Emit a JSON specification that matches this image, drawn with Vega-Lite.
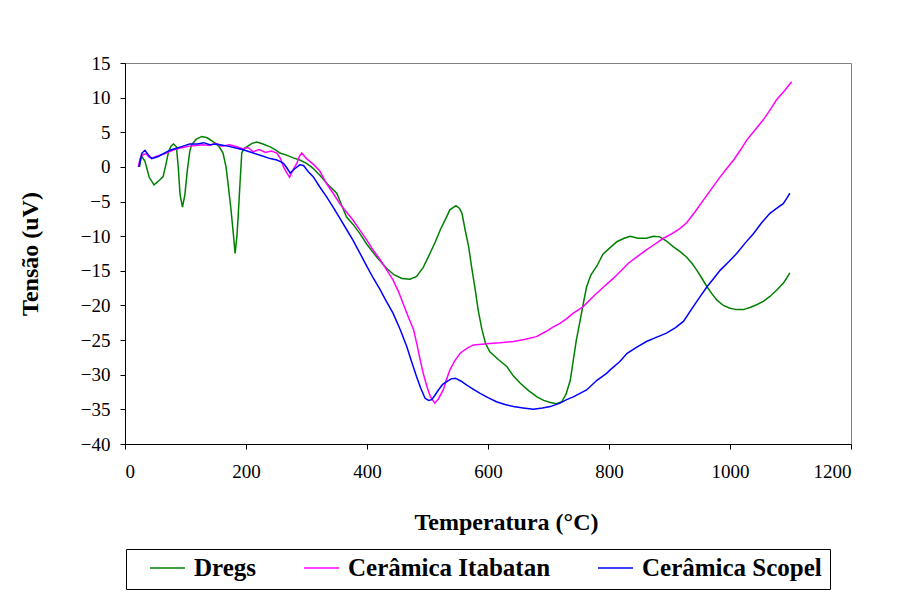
{
  "$schema": "https://vega.github.io/schema/vega-lite/v6.json",
  "width": 726,
  "height": 381,
  "autosize": {"type": "none"},
  "padding": {"left": 125, "top": 63, "right": 50, "bottom": 152},
  "background": "white",
  "config": {
    "view": {"stroke": "#808080", "strokeWidth": 1},
    "font": "Liberation Serif",
    "axis": {
      "grid": false,
      "domainColor": "black",
      "tickColor": "black",
      "labelColor": "black",
      "labelFont": "Liberation Serif",
      "labelFontSize": 19,
      "titleFont": "Liberation Serif",
      "titleFontSize": 24,
      "titleFontWeight": "bold",
      "titleColor": "black",
      "tickSize": 5
    },
    "legend": {
      "labelFont": "Liberation Serif",
      "labelFontSize": 25,
      "labelFontWeight": "bold",
      "labelColor": "black",
      "labelLimit": 500
    }
  },
  "datasets": {
    "dregs": [
      {"t":24,"v":0},{"t":27,"v":1.6},{"t":33,"v":0.8},{"t":40,"v":-1.5},{"t":48,"v":-2.6},{"t":56,"v":-2},{"t":63,"v":-1.4},{"t":68,"v":0.5},{"t":72,"v":2.2},{"t":76,"v":3.0},{"t":80,"v":3.3},{"t":85,"v":2.9},{"t":88,"v":0},{"t":91,"v":-4},{"t":95,"v":-5.8},{"t":99,"v":-4},{"t":103,"v":-0.5},{"t":107,"v":2.2},{"t":110,"v":3.2},{"t":118,"v":4.0},{"t":127,"v":4.4},{"t":136,"v":4.2},{"t":146,"v":3.6},{"t":155,"v":3.0},{"t":162,"v":2.0},{"t":167,"v":0},{"t":171,"v":-2.9},{"t":175,"v":-6},{"t":179,"v":-9.6},{"t":182,"v":-12.5},{"t":185,"v":-10},{"t":187,"v":-7.2},{"t":190,"v":-2.5},{"t":193,"v":2},{"t":197,"v":2.7},{"t":201,"v":2.9},{"t":210,"v":3.4},{"t":218,"v":3.6},{"t":228,"v":3.3},{"t":240,"v":2.9},{"t":250,"v":2.4},{"t":256,"v":2.0},{"t":267,"v":1.7},{"t":278,"v":1.3},{"t":289,"v":1.0},{"t":300,"v":0.5},{"t":311,"v":-0.2},{"t":322,"v":-1.2},{"t":335,"v":-2.5},{"t":350,"v":-3.8},{"t":358,"v":-5.5},{"t":366,"v":-7.2},{"t":377,"v":-8.3},{"t":388,"v":-9.6},{"t":400,"v":-11.2},{"t":416,"v":-13},{"t":432,"v":-14.6},{"t":445,"v":-15.6},{"t":458,"v":-16.1},{"t":471,"v":-16.2},{"t":482,"v":-15.8},{"t":493,"v":-14.5},{"t":504,"v":-12.5},{"t":513,"v":-10.8},{"t":521,"v":-9.1},{"t":530,"v":-7.5},{"t":537,"v":-6.2},{"t":547,"v":-5.6},{"t":553,"v":-6.0},{"t":557,"v":-6.7},{"t":562,"v":-9},{"t":568,"v":-11.5},{"t":573,"v":-14.5},{"t":579,"v":-17.8},{"t":584,"v":-20.8},{"t":590,"v":-23.5},{"t":596,"v":-25.5},{"t":603,"v":-26.7},{"t":617,"v":-27.8},{"t":631,"v":-28.8},{"t":642,"v":-30.2},{"t":653,"v":-31.2},{"t":667,"v":-32.3},{"t":681,"v":-33.2},{"t":692,"v":-33.7},{"t":703,"v":-34},{"t":713,"v":-34.2},{"t":722,"v":-33.9},{"t":729,"v":-32.8},{"t":736,"v":-30.8},{"t":741,"v":-27.9},{"t":746,"v":-25},{"t":752,"v":-22.3},{"t":758,"v":-19.5},{"t":763,"v":-17.3},{"t":770,"v":-15.6},{"t":780,"v":-14.3},{"t":790,"v":-12.6},{"t":800,"v":-11.8},{"t":813,"v":-10.8},{"t":825,"v":-10.3},{"t":835,"v":-10.0},{"t":848,"v":-10.3},{"t":862,"v":-10.3},{"t":873,"v":-10.0},{"t":884,"v":-10.1},{"t":895,"v":-10.7},{"t":906,"v":-11.5},{"t":917,"v":-12.2},{"t":928,"v":-13},{"t":937,"v":-13.9},{"t":945,"v":-14.9},{"t":953,"v":-16},{"t":962,"v":-17.3},{"t":970,"v":-18.3},{"t":978,"v":-19.2},{"t":989,"v":-20},{"t":1000,"v":-20.4},{"t":1011,"v":-20.6},{"t":1022,"v":-20.6},{"t":1033,"v":-20.3},{"t":1044,"v":-19.9},{"t":1055,"v":-19.4},{"t":1066,"v":-18.7},{"t":1077,"v":-17.8},{"t":1088,"v":-16.8},{"t":1094,"v":-16},{"t":1099,"v":-15.3}
    ],
    "itabatan": [
      {"t":22,"v":0},{"t":25,"v":1.2},{"t":30,"v":1.8},{"t":35,"v":1.9},{"t":40,"v":1.4},{"t":45,"v":1.3},{"t":55,"v":1.6},{"t":65,"v":1.9},{"t":74,"v":2.2},{"t":85,"v":2.6},{"t":95,"v":2.8},{"t":107,"v":3.0},{"t":118,"v":3.1},{"t":129,"v":3.2},{"t":140,"v":3.1},{"t":150,"v":3.4},{"t":160,"v":3.0},{"t":173,"v":3.2},{"t":185,"v":2.9},{"t":195,"v":2.6},{"t":203,"v":2.8},{"t":212,"v":2.2},{"t":222,"v":2.5},{"t":232,"v":2.1},{"t":242,"v":2.3},{"t":251,"v":2.0},{"t":257,"v":1.2},{"t":262,"v":0},{"t":267,"v":-0.8},{"t":272,"v":-1.5},{"t":278,"v":-0.4},{"t":284,"v":0.5},{"t":288,"v":1.5},{"t":292,"v":2.0},{"t":300,"v":1.2},{"t":311,"v":0.4},{"t":322,"v":-0.6},{"t":333,"v":-2.4},{"t":344,"v":-3.8},{"t":355,"v":-5.3},{"t":366,"v":-6.5},{"t":377,"v":-7.7},{"t":388,"v":-9.1},{"t":400,"v":-10.6},{"t":410,"v":-12},{"t":421,"v":-13.3},{"t":432,"v":-14.8},{"t":443,"v":-16.3},{"t":452,"v":-18},{"t":460,"v":-19.8},{"t":468,"v":-21.6},{"t":477,"v":-23.5},{"t":483,"v":-25.8},{"t":488,"v":-27.9},{"t":493,"v":-29.8},{"t":499,"v":-31.7},{"t":505,"v":-33.2},{"t":512,"v":-34.1},{"t":518,"v":-33.5},{"t":526,"v":-32.2},{"t":531,"v":-30.8},{"t":537,"v":-29.3},{"t":545,"v":-28},{"t":554,"v":-26.9},{"t":565,"v":-26.2},{"t":576,"v":-25.7},{"t":590,"v":-25.6},{"t":603,"v":-25.5},{"t":620,"v":-25.4},{"t":642,"v":-25.2},{"t":660,"v":-24.9},{"t":680,"v":-24.5},{"t":695,"v":-23.8},{"t":708,"v":-23.1},{"t":719,"v":-22.6},{"t":730,"v":-21.9},{"t":741,"v":-21.1},{"t":757,"v":-20.2},{"t":774,"v":-18.7},{"t":790,"v":-17.4},{"t":807,"v":-16.1},{"t":820,"v":-15.0},{"t":832,"v":-13.9},{"t":846,"v":-13},{"t":860,"v":-12.1},{"t":875,"v":-11.2},{"t":890,"v":-10.3},{"t":905,"v":-9.6},{"t":917,"v":-8.9},{"t":928,"v":-8.1},{"t":942,"v":-6.5},{"t":956,"v":-4.8},{"t":970,"v":-3.1},{"t":984,"v":-1.4},{"t":995,"v":-0.2},{"t":1006,"v":1.0},{"t":1017,"v":2.4},{"t":1028,"v":3.9},{"t":1041,"v":5.3},{"t":1055,"v":6.8},{"t":1066,"v":8.2},{"t":1077,"v":9.7},{"t":1090,"v":11.0},{"t":1102,"v":12.3}
    ],
    "scopel": [
      {"t":23,"v":0},{"t":25,"v":0.8},{"t":28,"v":2.0},{"t":33,"v":2.4},{"t":38,"v":1.8},{"t":44,"v":1.2},{"t":55,"v":1.5},{"t":65,"v":2.0},{"t":74,"v":2.4},{"t":85,"v":2.7},{"t":96,"v":3.0},{"t":107,"v":3.3},{"t":120,"v":3.3},{"t":130,"v":3.5},{"t":140,"v":3.2},{"t":150,"v":3.3},{"t":157,"v":3.2},{"t":170,"v":3.0},{"t":185,"v":2.7},{"t":198,"v":2.4},{"t":212,"v":2.0},{"t":226,"v":1.6},{"t":240,"v":1.2},{"t":251,"v":1.0},{"t":256,"v":0.8},{"t":262,"v":0.5},{"t":268,"v":-0.2},{"t":273,"v":-0.9},{"t":280,"v":-0.3},{"t":289,"v":0.3},{"t":295,"v":0.2},{"t":303,"v":-0.7},{"t":311,"v":-1.4},{"t":322,"v":-2.9},{"t":333,"v":-4.3},{"t":344,"v":-5.8},{"t":355,"v":-7.4},{"t":366,"v":-9},{"t":377,"v":-10.6},{"t":388,"v":-12.4},{"t":400,"v":-14.4},{"t":410,"v":-16},{"t":421,"v":-17.6},{"t":432,"v":-19.4},{"t":443,"v":-21.1},{"t":455,"v":-23.5},{"t":466,"v":-26},{"t":474,"v":-28.2},{"t":482,"v":-30.3},{"t":489,"v":-32},{"t":496,"v":-33.4},{"t":502,"v":-33.7},{"t":507,"v":-33.6},{"t":512,"v":-33},{"t":518,"v":-32.2},{"t":525,"v":-31.4},{"t":532,"v":-31},{"t":539,"v":-30.6},{"t":546,"v":-30.5},{"t":555,"v":-30.9},{"t":565,"v":-31.5},{"t":576,"v":-32.1},{"t":587,"v":-32.7},{"t":600,"v":-33.3},{"t":614,"v":-33.9},{"t":628,"v":-34.3},{"t":642,"v":-34.6},{"t":658,"v":-34.8},{"t":675,"v":-35},{"t":690,"v":-34.8},{"t":703,"v":-34.6},{"t":719,"v":-34.1},{"t":730,"v":-33.6},{"t":741,"v":-33.2},{"t":752,"v":-32.7},{"t":763,"v":-32.2},{"t":780,"v":-30.8},{"t":796,"v":-29.8},{"t":802,"v":-29.3},{"t":818,"v":-28.1},{"t":830,"v":-26.9},{"t":846,"v":-26},{"t":862,"v":-25.2},{"t":878,"v":-24.6},{"t":895,"v":-24},{"t":910,"v":-23.2},{"t":923,"v":-22.3},{"t":939,"v":-20.2},{"t":950,"v":-18.8},{"t":962,"v":-17.3},{"t":973,"v":-16.1},{"t":984,"v":-14.9},{"t":998,"v":-13.7},{"t":1011,"v":-12.5},{"t":1025,"v":-11},{"t":1039,"v":-9.6},{"t":1052,"v":-8.1},{"t":1066,"v":-6.7},{"t":1077,"v":-6},{"t":1088,"v":-5.3},{"t":1094,"v":-4.5},{"t":1099,"v":-3.8}
    ]
  },
  "encoding": {
    "x": {
      "field": "t", "type": "quantitative",
      "scale": {"domain": [0, 1200], "nice": false, "zero": false},
      "axis": {"values": [0, 200, 400, 600, 800, 1000, 1200], "format": "d", "title": "Temperatura (°C)", "labelPadding": 13, "titlePadding": 29, "titleX": 381}
    },
    "y": {
      "field": "v", "type": "quantitative",
      "scale": {"domain": [-40, 15], "nice": false, "zero": false},
      "axis": {"values": [-40, -35, -30, -25, -20, -15, -10, -5, 0, 5, 10, 15], "format": "d", "title": "Tensão (uV)", "labelPadding": 10, "titlePadding": 38}
    }
  },
  "layer": [
    {"data": {"name": "dregs"}, "mark": {"type": "line", "strokeWidth": 1.5}, "encoding": {"color": {"datum": "Dregs"}}},
    {"data": {"name": "itabatan"}, "mark": {"type": "line", "strokeWidth": 1.5}, "encoding": {"color": {"datum": "Cerâmica Itabatan"}}},
    {"data": {"name": "scopel"}, "mark": {"type": "line", "strokeWidth": 1.5}, "encoding": {
      "color": {
        "datum": "Cerâmica Scopel",
        "scale": {"domain": ["Dregs", "Cerâmica Itabatan", "Cerâmica Scopel"], "range": ["#008000", "#FF00FF", "#0000FF"]},
        "legend": {
          "title": null,
          "orient": "none",
          "legendX": 1,
          "legendY": 486,
          "direction": "horizontal",
          "columns": 3,
          "strokeColor": "black",
          "fillColor": "white",
          "padding": 8,
          "symbolType": "stroke",
          "symbolSize": 1225,
          "clipHeight": 22,
          "symbolStrokeWidth": 1.5,
          "symbolOffset": 15,
          "labelOffset": 8,
          "columnPadding": 31
        }
      }
    }}
  ],
  "resolve": {"scale": {"color": "shared"}}
}
